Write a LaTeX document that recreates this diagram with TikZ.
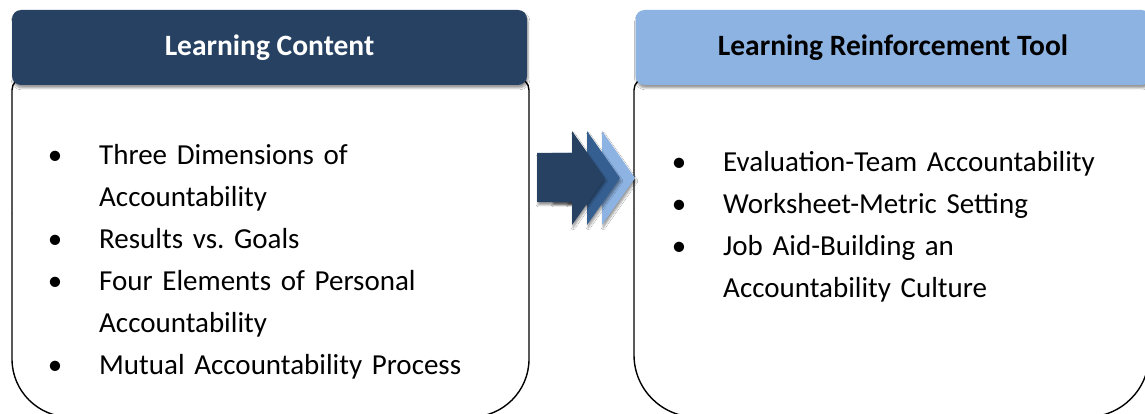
\documentclass[tikz,border=0pt]{standalone}
\usepackage{fontspec}
\setmainfont{Carlito}
\usepackage{enumitem}
\usetikzlibrary{shadows.blur}

\definecolor{headnavy}{RGB}{38,65,98}
\definecolor{midblue}{RGB}{54,95,145}
\definecolor{paleblue}{RGB}{141,179,226}

\tikzset{
  headbox/.style={rounded corners=9pt, minimum width=515pt, minimum height=75pt, inner sep=0pt,
    font=\fontsize{29.5}{34}\selectfont\bfseries,
    blur shadow={shadow xshift=1pt, shadow yshift=-3pt, shadow blur steps=6}},
  bodyline/.style={draw=black, line width=1.4pt},
  itemlist/.style={anchor=north west, inner sep=0pt, text width=450pt, align=left,
    font=\fontsize{29}{42}\selectfont\frenchspacing},
  arrowpart/.style={draw=none}
}

\setlist[itemize]{label=\textbullet, leftmargin=47pt, labelsep=37pt, itemsep=0pt, topsep=0pt, parsep=0pt, partopsep=0pt}

\begin{document}
\begin{tikzpicture}[x=1pt, y=1pt]
\clip (0,0) rectangle (1145,413);
\fill[white] (0,0) rectangle (1145,413);

% body outlines (bottom runs past the page)
\draw[bodyline, rounded corners=12pt] (12,200) -- (12,335) -- (529,335) -- (529,200);
\draw[bodyline, rounded corners=58pt] (12,200) -- (12,-4) -- (529,-4) -- (529,200);
\draw[bodyline, rounded corners=12pt] (634,200) -- (634,335) -- (1149,335) -- (1149,200);
\draw[bodyline, rounded corners=62pt] (634,200) -- (634,-4) -- (1149,-4) -- (1149,200);

% headers
\node[headbox, fill=headnavy, text=white] (conthead) at (269.5,365.5) {Learning Content};
\node[headbox, fill=paleblue, text=black] (toolhead) at (893,365.5) {Learning Reinforcement Tool};

% lists
\node[itemlist] (contlist) at (52,291) {%
\begin{itemize}\raggedright
\item Three Dimensions of\newline Accountability
\item Results vs. Goals
\item Four Elements of Personal\newline Accountability
\item Mutual Accountability Process
\end{itemize}};

\node[itemlist] (toollist) at (676,284) {%
\begin{itemize}\raggedright
\item Evaluation-Team Accountability
\item Worksheet-Metric Setting
\item Job Aid-Building an\newline Accountability Culture
\end{itemize}};

% the three arrows between the boxes
\foreach \dx/\col in {30/paleblue, 15/midblue, 0/headnavy}{
  \fill[\col, blur shadow={shadow xshift=1pt, shadow yshift=-3pt, shadow blur steps=5}]
    (537+\dx,260) -- (572+\dx,260) -- (572+\dx,282) -- (605+\dx,235)
    -- (572+\dx,188) -- (572+\dx,211) -- (537+\dx,211) -- cycle;
}
\end{tikzpicture}
\end{document}
